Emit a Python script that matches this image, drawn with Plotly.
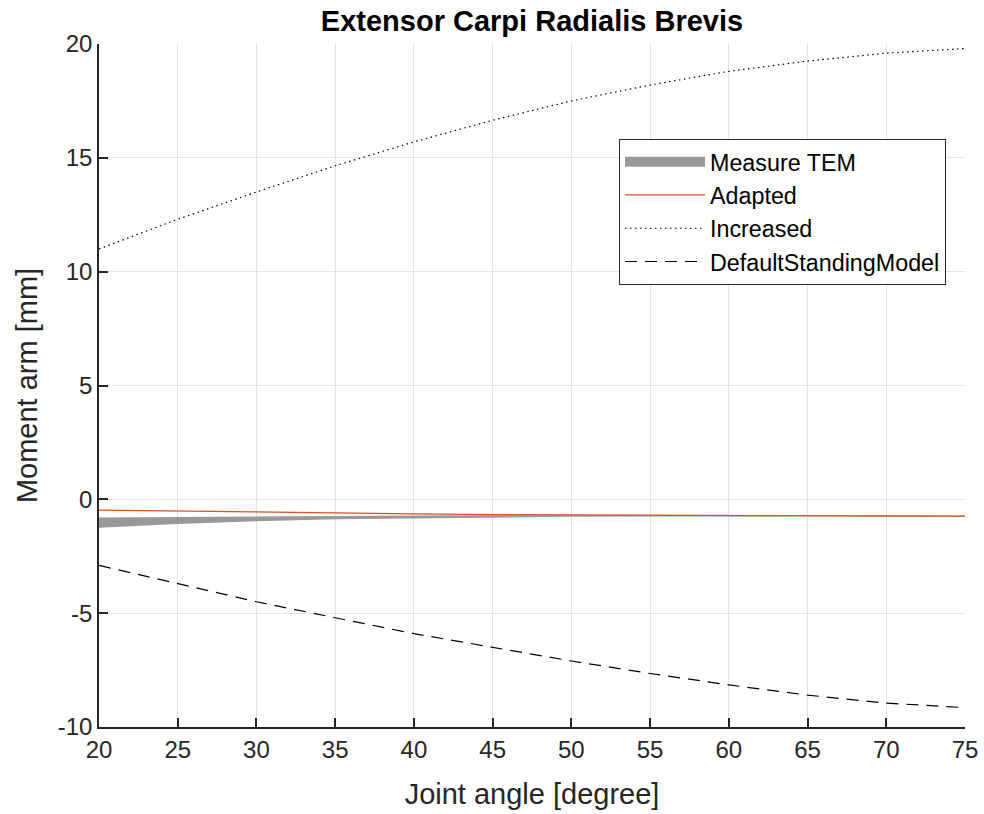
import plotly.graph_objects as go

angles = [20, 25, 30, 35, 40, 45, 50, 55, 60, 65, 70, 75]
tem_upper = [-0.80, -0.77, -0.74, -0.72, -0.71, -0.70, -0.69, -0.68, -0.69, -0.70, -0.71, -0.72]
tem_lower = [-1.25, -1.08, -0.96, -0.88, -0.83, -0.80, -0.77, -0.75, -0.74, -0.75, -0.76, -0.77]
adapted = [-0.47, -0.52, -0.57, -0.61, -0.64, -0.67, -0.69, -0.70, -0.71, -0.72, -0.73, -0.74]
increased = [11.0, 12.3, 13.5, 14.65, 15.7, 16.65, 17.5, 18.2, 18.8, 19.25, 19.6, 19.8]
default_model = [-2.9, -3.7, -4.5, -5.2, -5.9, -6.5, -7.1, -7.65, -8.15, -8.6, -8.95, -9.15]
xticks = list(range(20, 80, 5))
yticks = list(range(-10, 25, 5))

fig = go.Figure()
fig.add_trace(go.Scatter(
    x=angles + angles[::-1], y=tem_upper + tem_lower[::-1],
    fill="toself", fillcolor="#999999", line=dict(width=0, color="#999999"),
    mode="lines", name="Measure TEM", showlegend=False, hoverinfo="skip"))
# legend-only swatch for the band
fig.add_trace(go.Scatter(x=[None], y=[None], mode="lines", name="Measure TEM",
                         line=dict(color="#999999", width=24)))
fig.add_trace(go.Scatter(x=angles, y=adapted, mode="lines", name="Adapted",
                         line=dict(color="#D95319", width=1.2)))
fig.add_trace(go.Scatter(x=angles, y=increased, mode="lines", name="Increased",
                         line=dict(color="#000000", width=1.2, dash="1.5px,3.5px")))
fig.add_trace(go.Scatter(x=angles, y=default_model, mode="lines", name="DefaultStandingModel",
                         line=dict(color="#000000", width=1.2, dash="12px,8px")))

font_family = "Liberation Sans, Arial, sans-serif"
fig.update_layout(
    width=984, height=814,
    margin=dict(l=99, r=19, t=44, b=87, autoexpand=False),
    paper_bgcolor="white", plot_bgcolor="white",
    font=dict(family=font_family, color="#262626", size=24),
    title=dict(text="<b>Extensor Carpi Radialis Brevis</b>", x=(99 + 965) / 2 / 984, xanchor="center",
               y=1 - 21 / 814, yanchor="middle", font=dict(size=29, color="#000000")),
    showlegend=True,
    legend=dict(x=(619 - 99) / 866, y=(727 - 139) / 683, xanchor="left", yanchor="top",
                bgcolor="white", bordercolor="#262626", borderwidth=1,
                font=dict(size=23.3, color="#000000"), itemwidth=80,
                tracegroupgap=0),
)
fig.update_xaxes(range=[20, 75], tickvals=xticks, ticktext=[str(v) for v in xticks],
                 title=dict(text="Joint angle [degree]", font=dict(size=29), standoff=22),
                 showline=True, linecolor="#262626", linewidth=1.5, mirror=False,
                 ticks="inside", ticklen=9, tickcolor="#262626", tickwidth=1.5,
                 showgrid=True, gridcolor="#e3e3e3", gridwidth=1, zeroline=False,
                 tickfont=dict(size=24), automargin=False)
fig.update_yaxes(range=[-10, 20], tickvals=yticks, ticktext=[str(v) for v in yticks],
                 title=dict(text="Moment arm [mm]", font=dict(size=29), standoff=12),
                 showline=True, linecolor="#262626", linewidth=1.5, mirror=False,
                 ticks="inside", ticklen=9, tickcolor="#262626", tickwidth=1.5,
                 showgrid=True, gridcolor="#e3e3e3", gridwidth=1, zeroline=False,
                 tickfont=dict(size=24), automargin=False)

fig.write_html("out.html")
